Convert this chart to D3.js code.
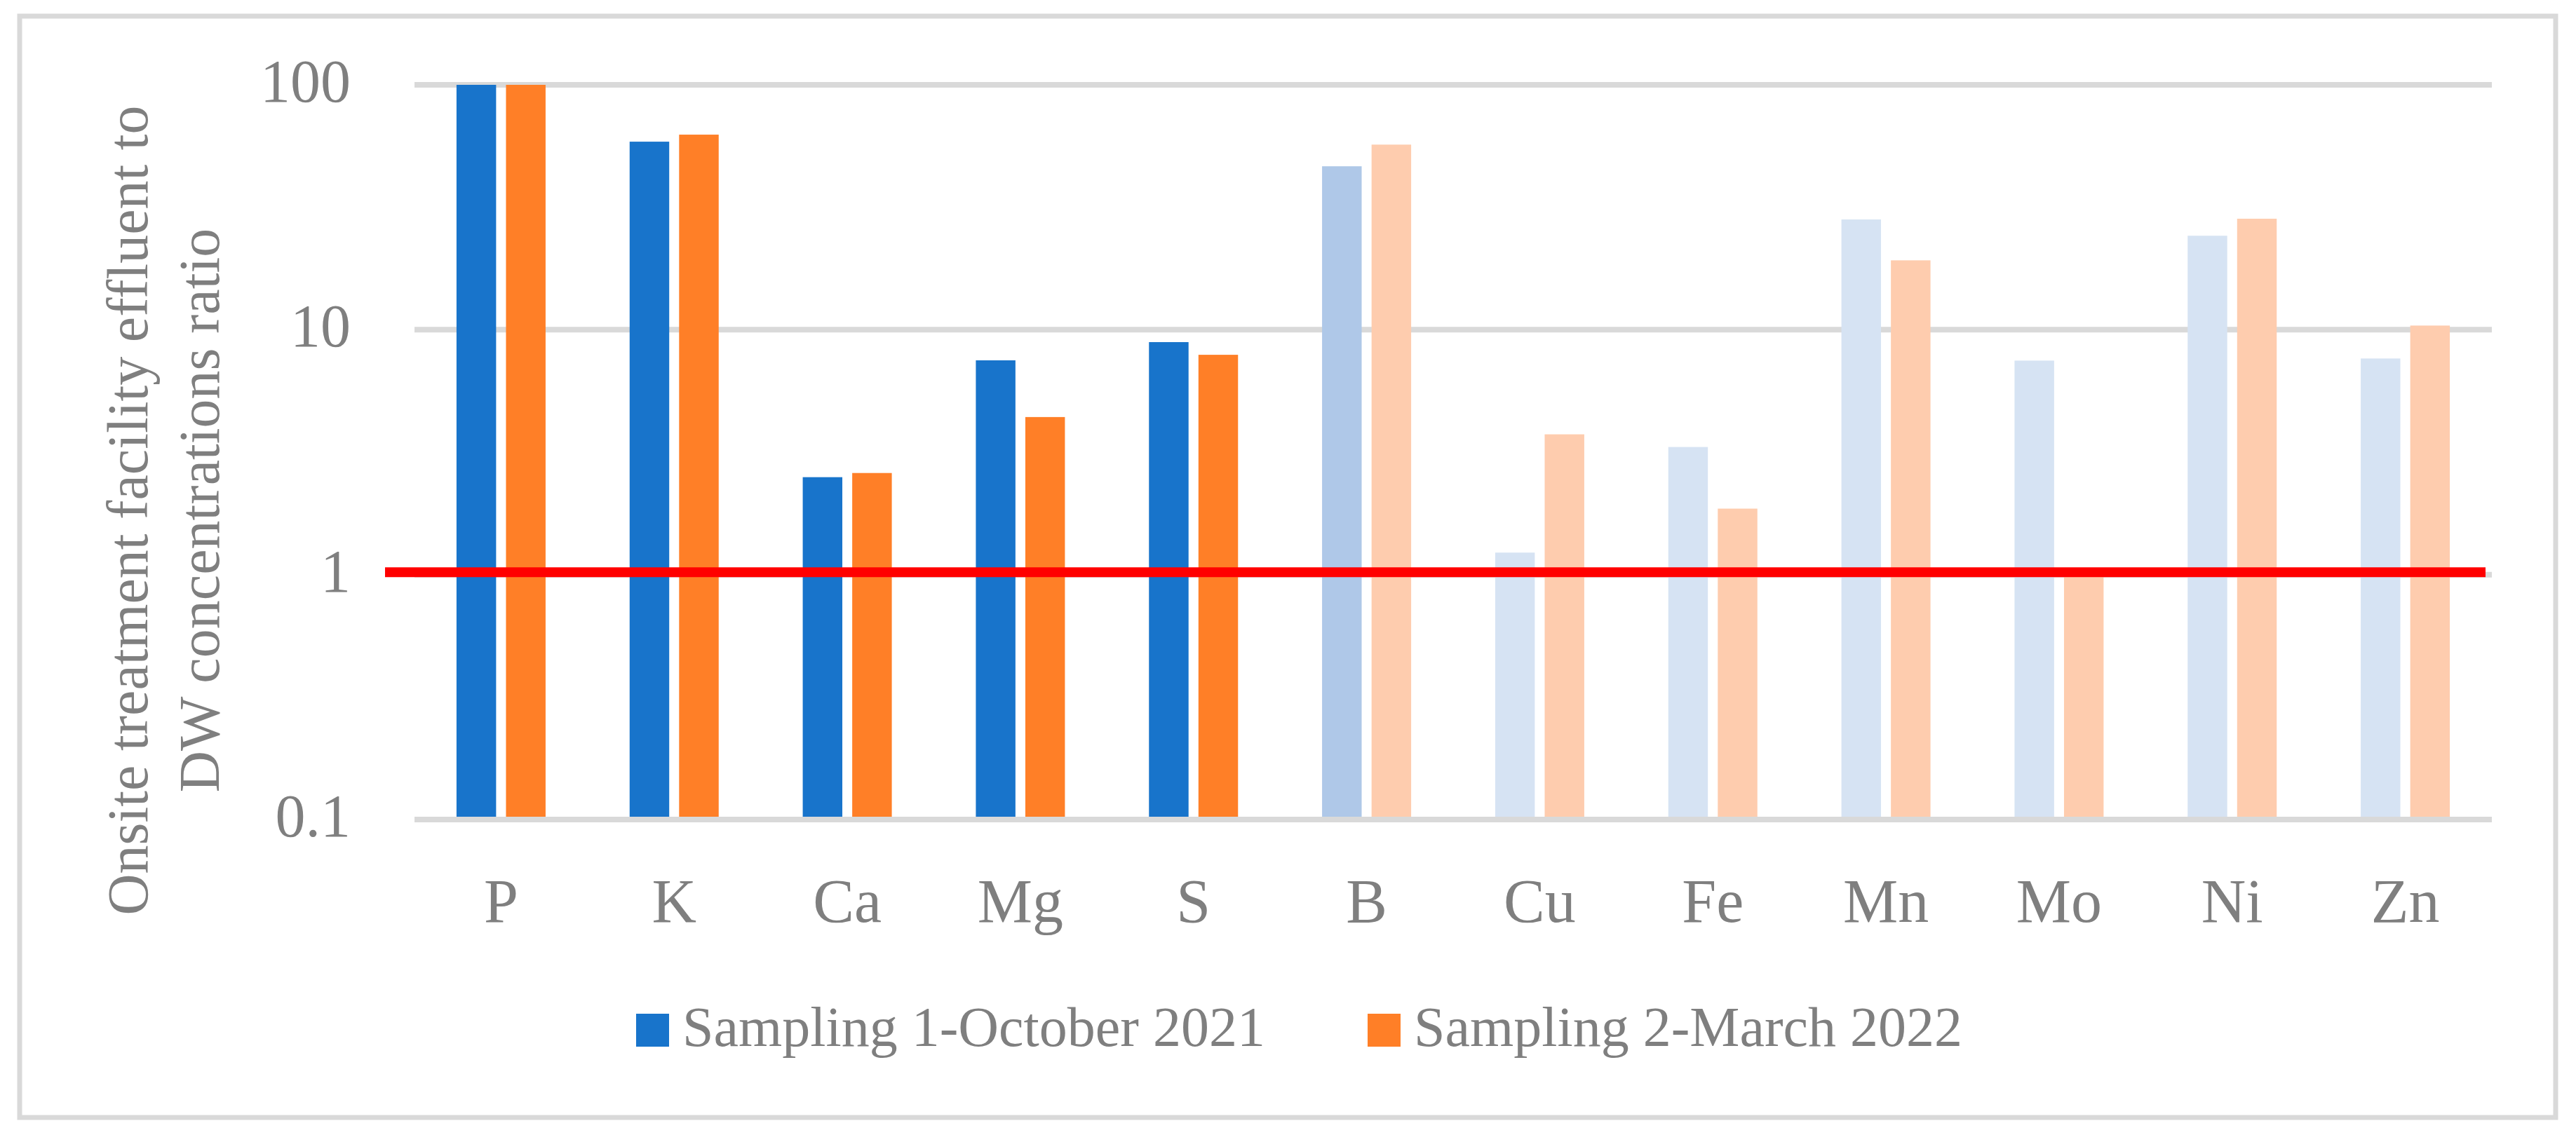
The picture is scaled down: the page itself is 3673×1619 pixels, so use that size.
<!DOCTYPE html>
<html>
<head>
<meta charset="utf-8">
<script src="https://cdn.jsdelivr.net/npm/d3@7/dist/d3.min.js"></script>
<style>
  html, body { margin: 0; padding: 0; background: #ffffff; }
  svg { display: block; }
  text { font-family: "Liberation Serif", "Times New Roman", serif; fill: #7f7f7f; }
</style>
</head>
<body>
<svg id="chart" width="3673" height="1619"></svg>
<script>
// ---- data ----
const categories = ["P", "K", "Ca", "Mg", "S", "B", "Cu", "Fe", "Mn", "Mo", "Ni", "Zn"];
const sampling1 = [100, 58.6, 2.5, 7.5, 8.9, 46.5, 1.23, 3.32, 28.2, 7.48, 24.2, 7.63];
const sampling2 = [100, 62.6, 2.6, 4.4, 7.9, 57, 3.74, 1.86, 19.2, 1.0, 28.4, 10.4];
const seriesNames = ["Sampling 1-October 2021", "Sampling 2-March 2022"];
const yTicks = [0.1, 1, 10, 100];
const yTickLabels = ["0.1", "1", "10", "100"];
const referenceValue = 1;
const yTitleLines = ["Onsite treatment facility effluent to", "DW concentrations ratio"];

// ---- styles (kept apart from the data) ----
const seriesColors = ["#1874CB", "#FF7F27"];
// shading level per category: 0 = full, 1 = medium, 2 = light
const shadeLevel = [0, 0, 0, 0, 0, 1, 2, 2, 2, 2, 2, 2];
const shadeColors = [
  ["#1874CB", "#AFC8E8", "#D6E3F3"],
  ["#FF7F27", "#FECCAE", "#FECCAE"]
];
const gridColor = "#D9D9D9";

// ---- layout ----
const svg = d3.select("#chart");
const plot = { left: 591, right: 3553, top: 121, bottom: 1169 };

const y = d3.scaleLog().domain([0.1, 100]).range([plot.bottom, plot.top]);
const x0 = d3.scaleBand().domain(categories).range([plot.left, plot.right])
  .paddingInner(0.4855).paddingOuter(0.24275);
const x1 = d3.scaleBand().domain([0, 1]).range([0, x0.bandwidth()]).paddingInner(0.2);

// outer border
svg.append("rect")
  .attr("x", 28).attr("y", 23).attr("width", 3644 - 28).attr("height", 1594 - 23)
  .attr("fill", "#ffffff").attr("stroke", gridColor).attr("stroke-width", 7);

// gridlines (except the bottom axis line)
svg.append("g").selectAll("line").data(yTicks.slice(1)).join("line")
  .attr("x1", plot.left).attr("x2", plot.right)
  .attr("y1", d => y(d)).attr("y2", d => y(d))
  .attr("stroke", gridColor).attr("stroke-width", 8);

// bars
const series = [sampling1, sampling2];
const gBars = svg.append("g");
series.forEach((vals, si) => {
  gBars.append("g").selectAll("rect").data(vals).join("rect")
    .attr("x", (d, i) => x0(categories[i]) + x1(si))
    .attr("width", x1.bandwidth())
    .attr("y", d => y(d))
    .attr("height", d => y(0.1) - 4 - y(d))
    .attr("fill", (d, i) => shadeColors[si][shadeLevel[i]]);
});

// bottom axis line
svg.append("line")
  .attr("x1", plot.left).attr("x2", plot.right)
  .attr("y1", y(0.1)).attr("y2", y(0.1))
  .attr("stroke", gridColor).attr("stroke-width", 8);

// reference line at ratio 1
svg.append("line")
  .attr("x1", 549).attr("x2", 3544)
  .attr("y1", y(referenceValue) - 3.5).attr("y2", y(referenceValue) - 3.5)
  .attr("stroke", "#FF0000").attr("stroke-width", 14);

// y tick labels
svg.append("g").selectAll("text").data(yTicks).join("text")
  .attr("x", 500).attr("y", d => y(d) + 24)
  .attr("text-anchor", "end")
  .attr("font-size", 86)
  .text((d, i) => yTickLabels[i]);

// category labels
svg.append("g").selectAll("text").data(categories).join("text")
  .attr("x", d => x0(d) + x0.bandwidth() / 2)
  .attr("y", 1315)
  .attr("text-anchor", "middle")
  .attr("font-size", 88)
  .text(d => d);

// y axis title
const title = svg.append("text")
  .attr("transform", "translate(0,728) rotate(-90)")
  .attr("text-anchor", "middle")
  .attr("font-size", 82);
title.append("tspan").attr("x", 0).attr("y", 210).text(yTitleLines[0]);
title.append("tspan").attr("x", 0).attr("y", 312).text(yTitleLines[1]);

// legend
const legendX = [907, 1950];
const legend = svg.append("g");
seriesNames.forEach((name, i) => {
  legend.append("rect")
    .attr("x", legendX[i]).attr("y", 1446).attr("width", 47).attr("height", 47)
    .attr("fill", seriesColors[i]);
  legend.append("text")
    .attr("x", legendX[i] + 66).attr("y", 1492)
    .attr("font-size", 80)
    .text(name);
});
</script>
</body>
</html>
